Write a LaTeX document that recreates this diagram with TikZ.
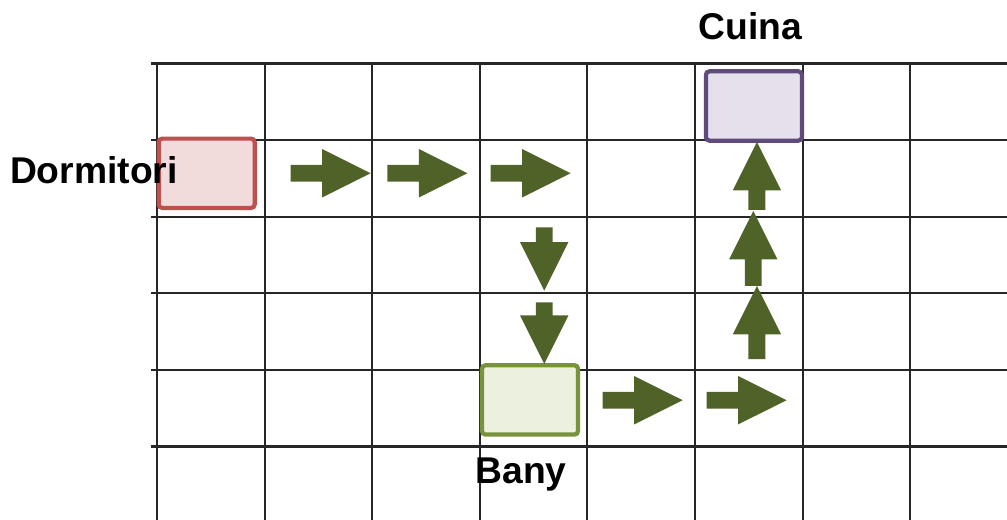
\documentclass[tikz,border=0pt]{standalone}
\usepackage{fontspec}
\setmainfont{Liberation Sans}
\usepackage{xcolor}
\usepackage{tikz}
\usetikzlibrary{calc}
\usetikzlibrary{shapes.arrows}

\definecolor{walkgreen}{HTML}{4F6228}
\definecolor{dormline}{HTML}{C0504D}
\definecolor{dormfill}{HTML}{F2DCDB}
\definecolor{cuinaline}{HTML}{604A7B}
\definecolor{cuinafill}{HTML}{E5E0EC}
\definecolor{banyline}{HTML}{77933C}
\definecolor{banyfill}{HTML}{EBF1DE}

\begin{document}
\begin{tikzpicture} [x=1.076cm, y=0.766cm,
  gridline/.style={black!85, line width=.6pt},
  room/.style={draw, line width=1.2pt, rounded corners=1pt, inner sep=0,
    minimum width=.96cm, minimum height=.693cm},
  walk/.style={single arrow, fill=walkgreen, draw=none, inner sep=0, inner ysep=.0775cm,
    single arrow head extend=.1575cm, single arrow tip angle=53, minimum height=#1, anchor=tail},
  lbl/.style={font=\fontsize{10.6}{12}\selectfont\bfseries, inner sep=0, anchor=base}]
\useasboundingbox (-1.459,-.958) rectangle (7.9,5.829);
% grid
\foreach \x in {0,...,7} {
 \draw[gridline] (\x,-.958) --++(0,5.958);
}
\foreach \y in {0,...,5} {
 \draw[gridline] (-.056,\y) -- (7.9,\y);
}
% rooms
\node[room, draw=dormline, fill=dormfill] (dorm) at (.462,3.567) {};
\node[room, draw=cuinaline, fill=cuinafill] (cuina) at (5.548,4.445) {};
\node[room, draw=banyline, fill=banyfill] (bany) at (3.467,.608) {};
\node[lbl] (dormlbl) at (-.587,3.433) {Dormitori};
\node[lbl] (cuinalbl) at (5.516,5.316) {Cuina};
\node[lbl] (banylbl) at (3.383,-.488) {Bany};
% path (arrows placed by their tails)
\foreach \x [count=\i] in {1.236,2.135,3.095}
 \node[walk=.8cm] (right\i) at (\x,3.567) {};
\foreach \y/\len [count=\i] in {2.870/.633cm,1.891/.616cm}
 \node[walk=\len, rotate=-90] (down\i) at (3.599,\y) {};
\foreach \x [count=\i] in {4.136,5.102}
 \node[walk=.8cm] (bright\i) at (\x,.604) {};
\foreach \x/\y/\len [count=\i] in {5.576/1.130/.733cm,5.542/2.087/.75cm,5.576/3.079/.68cm}
 \node[walk=\len, rotate=90] (up\i) at (\x,\y) {};
\end{tikzpicture}
\end{document}
